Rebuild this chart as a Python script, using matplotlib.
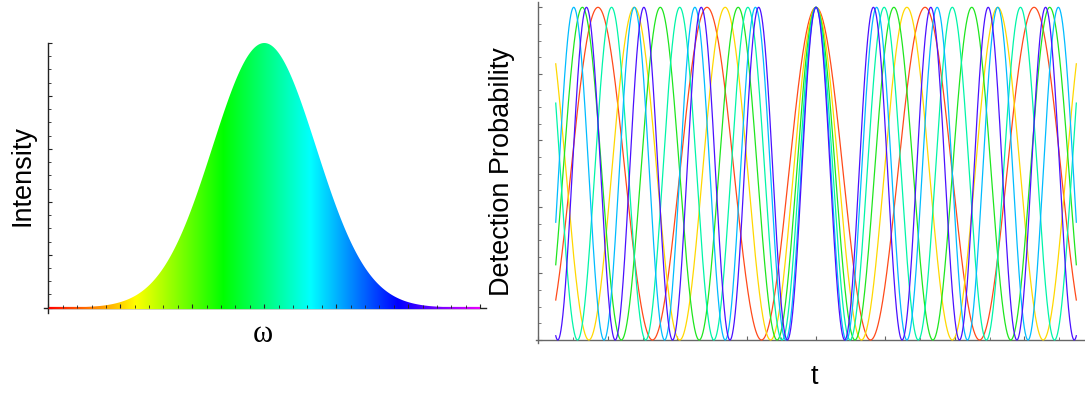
import numpy as np
import matplotlib.pyplot as plt
from matplotlib.colors import hsv_to_rgb
from matplotlib.collections import LineCollection
from matplotlib.ticker import MultipleLocator

# spectrum: gaussian intensity profile over omega
omega_center = 3.0
omega_width = 0.72
omega_range = (0.0, 6.0)
hue_per_unit = 0.137

# detection probability cos^2(w t) for several frequencies
freqs = [1.0, 1.2, 1.4, 1.6, 1.8, 1.9]
freq_colors = ['#ff4a1a', '#ffd800', '#1ee61e', '#00f5a8', '#00bcff', '#4a10ff']
t_range = (-7.5, 7.5)

W, H = 1085, 396
fig = plt.figure(figsize=(W / 100, H / 100), dpi=100)
plt.rcParams['font.family'] = ['Liberation Sans', 'DejaVu Sans']


def px_axes(x0, x1, ytop, ybot):
    return fig.add_axes([x0 / W, (H - ybot) / H, (x1 - x0) / W, (ybot - ytop) / H])


def style_axes(ax, color):
    for s in ('top', 'right'):
        ax.spines[s].set_visible(False)
    for s in ('left', 'bottom'):
        ax.spines[s].set_color(color)
        ax.spines[s].set_linewidth(1.0)
    ax.tick_params(which='both', direction='in', colors=color, labelleft=False, labelbottom=False)
    ax.tick_params(which='major', length=3.2, width=0.8)
    ax.tick_params(which='minor', length=2.0, width=0.6)


def spectrum_rgb(x):
    h = np.clip(np.asarray(x) * hue_per_unit, 0, 1)
    hsv = np.stack([h, np.ones_like(h), np.ones_like(h)], axis=-1)
    return hsv_to_rgb(hsv)


# ---- left panel ----
ax1 = px_axes(44, 486, 43, 313)
ax1.set_xlim(-0.06, 6.08)
ax1.set_ylim(-0.02, 1.0)
ax1.spines['left'].set_position(('data', 0))
ax1.spines['bottom'].set_position(('data', 0))
style_axes(ax1, '#222222')
ax1.xaxis.set_major_locator(MultipleLocator(1))
ax1.xaxis.set_minor_locator(MultipleLocator(0.2))
ax1.yaxis.set_major_locator(MultipleLocator(0.2))
ax1.yaxis.set_minor_locator(MultipleLocator(0.05))
ax1.xaxis.set_zorder(4)

w = np.linspace(*omega_range, 800)
inten = np.exp(-(w - omega_center) ** 2 / (2 * omega_width ** 2))
poly = ax1.fill_between(w, 0, inten, color='none', lw=0)

grad = spectrum_rgb(np.linspace(*omega_range, 600))[None, :, :]
img = ax1.imshow(grad, extent=[omega_range[0], omega_range[1], 0, 1.0],
                 aspect='auto', origin='lower', zorder=2, interpolation='bilinear')
img.set_clip_path(poly.get_paths()[0], transform=ax1.transData)

# coloured trace along the baseline
pts = np.column_stack([w, np.zeros_like(w)])
segs = np.stack([pts[:-1], pts[1:]], axis=1)
ax1.add_collection(LineCollection(segs, colors=spectrum_rgb(w[:-1]), lw=1.6, zorder=3))

# ---- right panel ----
ax2 = px_axes(536.3, 1085, 2.0, 343.3)
ax2.set_xlim(-8.06, 7.75)
ax2.set_ylim(-0.01, 1.016)
ax2.spines['left'].set_position(('data', -8))
ax2.spines['bottom'].set_position(('data', 0))
style_axes(ax2, '#666666')
ax2.xaxis.set_major_locator(MultipleLocator(2))
ax2.xaxis.set_minor_locator(MultipleLocator(1))
ax2.yaxis.set_major_locator(MultipleLocator(0.2))
ax2.yaxis.set_minor_locator(MultipleLocator(0.05))

t = np.linspace(*t_range, 3000)
for f, c in zip(freqs, freq_colors):
    ax2.plot(t, np.cos(f * t) ** 2, color=c, lw=0.9, zorder=3)

# ---- labels ----
fig.text(22 / W, 1 - 175 / H, 'Intensity', rotation=90, fontsize=19.5,
         ha='center', va='center')
fig.text(263 / W, 1 - 334 / H, 'ω', fontsize=22, family='Liberation Serif',
         ha='center', va='center')
fig.text(502 / W, 1 - 172 / H, 'Detection Probability', rotation=90, fontsize=19.5,
         ha='center', va='center')
fig.text(814 / W, 1 - 377 / H, 't', fontsize=19.5, ha='center', va='center')

fig.savefig('out.png', dpi=100)
